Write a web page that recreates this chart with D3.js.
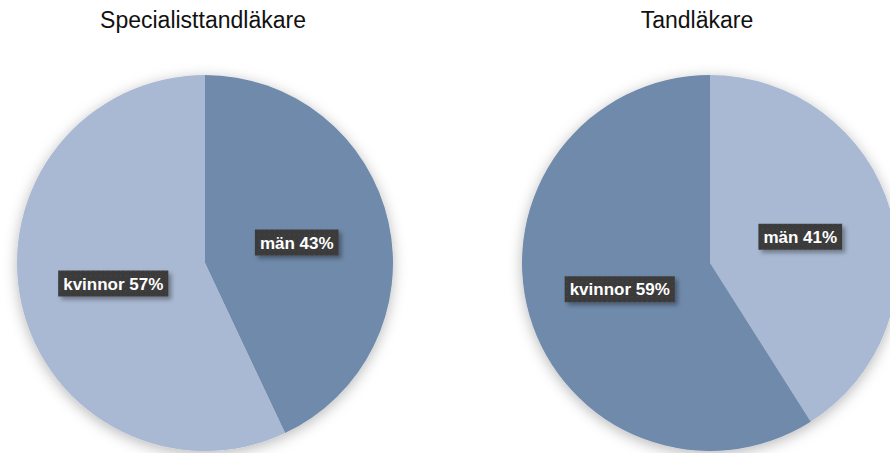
<!DOCTYPE html>
<html>
<head>
<meta charset="utf-8">
<script src="https://cdn.jsdelivr.net/npm/d3@7"></script>
<style>
  body { margin: 0; background: #fff; }
  text { font-family: "Liberation Sans", Arial, sans-serif; }
</style>
</head>
<body>
<svg id="chart"></svg>
<script>
// data
var titles = ["Specialisttandläkare", "Tandläkare"];
var categories = ["män", "kvinnor"];
var values = [[43, 57], [41, 59]];
var sliceColors = [["#6f8aab", "#a9b9d3"], ["#a9b9d3", "#6f8aab"]];

var width = 890, height = 453;
var svg = d3.select("#chart").attr("width", width).attr("height", height);

var defs = svg.append("defs");
var shadow = defs.append("filter").attr("id", "pieShadow")
  .attr("x", "-20%").attr("y", "-20%").attr("width", "140%").attr("height", "140%");
shadow.append("feDropShadow").attr("dx", 0).attr("dy", 3)
  .attr("stdDeviation", 7).attr("flood-color", "#000").attr("flood-opacity", 0.28);

var lblShadow = defs.append("filter").attr("id", "lblShadow")
  .attr("x", "-20%").attr("y", "-40%").attr("width", "150%").attr("height", "200%");
lblShadow.append("feDropShadow").attr("dx", 3).attr("dy", 3)
  .attr("stdDeviation", 2).attr("flood-color", "#000").attr("flood-opacity", 0.35);

var dots = defs.append("pattern").attr("id", "dots")
  .attr("width", 5).attr("height", 5).attr("patternUnits", "userSpaceOnUse");
dots.append("rect").attr("width", 5).attr("height", 5).attr("fill", "#3b3b3b");
dots.append("rect").attr("x", 2).attr("y", 2).attr("width", 1).attr("height", 1).attr("fill", "#4d4d4d");

var radius = 188;
var centers = [[205, 263], [710, 263]];
var titleX = [203, 697];

var pie = d3.pie().sort(null).value(function(d) { return d.value; });
var arc = d3.arc().innerRadius(0).outerRadius(radius);
var labelArc = d3.arc().innerRadius(radius * 0.5).outerRadius(radius * 0.5);

titles.forEach(function(title, i) {
  svg.append("text")
    .attr("x", titleX[i]).attr("y", 28)
    .attr("text-anchor", "middle")
    .attr("font-size", 23)
    .attr("fill", "#111")
    .text(title);

  var data = categories.map(function(c, j) { return { cat: c, value: values[i][j], idx: j }; });
  var g = svg.append("g").attr("transform", "translate(" + centers[i][0] + "," + centers[i][1] + ")");

  var slices = g.append("g").attr("filter", "url(#pieShadow)");
  slices.selectAll("path").data(pie(data)).enter().append("path")
    .attr("d", arc)
    .attr("fill", function(d) { return sliceColors[i][d.data.idx]; });

  var labels = g.selectAll(".label").data(pie(data)).enter().append("g")
    .attr("class", "label")
    .attr("transform", function(d) {
      var c = labelArc.centroid(d);
      return "translate(" + c[0] + "," + c[1] + ")";
    });

  labels.each(function(d) {
    var lg = d3.select(this);
    var t = lg.append("text")
      .attr("text-anchor", "middle")
      .attr("dy", "0.36em")
      .attr("font-size", 17)
      .attr("font-weight", "bold")
      .attr("fill", "#fff")
      .text(d.data.cat + " " + d.data.value + "%");
    var bb = t.node().getBBox();
    lg.insert("rect", "text")
      .attr("x", bb.x - 5).attr("y", -13)
      .attr("width", bb.width + 10).attr("height", 26)
      .attr("fill", "url(#dots)")
      .attr("filter", "url(#lblShadow)");
  });
});
</script>
</body>
</html>
